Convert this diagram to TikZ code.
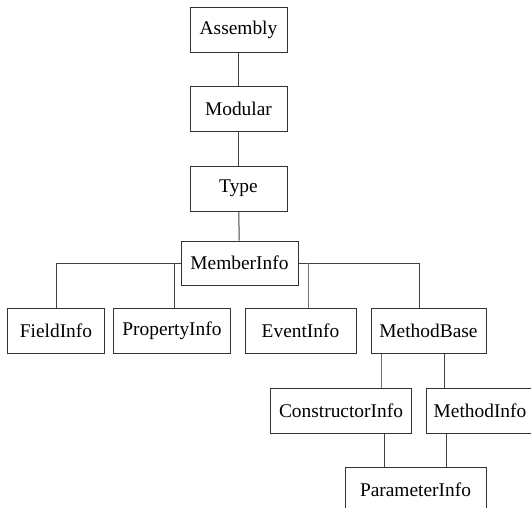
\documentclass[tikz,border=0pt]{standalone}
\usepackage{fontspec}
\setmainfont{Liberation Serif}
\begin{document}
\begin{tikzpicture}[x=1pt,y=-1pt]
\tikzstyle{every node}=[font=\fontsize{19.4}{23}\selectfont]
\tikzstyle{cls}=[draw=black!80,line width=1pt,minimum height=45pt,inner sep=0pt]
\tikzstyle{link}=[draw=black!75,line width=1pt]
\useasboundingbox (0,0) rectangle (531,507);
\clip (0,0) rectangle (531,507);
\node[cls,minimum width=97pt](Assembly) at (238.5,29.5){Assembly};
\node[cls,minimum width=97pt](Modular) at (238.5,109){Modular};
\node[cls,minimum width=97pt](Type) at (238.5,188.5){Type};
\node[cls,minimum width=117pt,minimum height=44pt](MemberInfo) at (239.5,263){MemberInfo};
\node[cls,minimum width=96.5pt](FieldInfo) at (56,331){FieldInfo};
\node[cls,minimum width=116.5pt](PropertyInfo) at (172,331){PropertyInfo};
\node[cls,minimum width=111pt](EventInfo) at (300.5,331){EventInfo};
\node[cls,minimum width=115pt](MethodBase) at (428.5,331){MethodBase};
\node[cls,minimum width=141.5pt](ConstructorInfo) at (341,410.5){ConstructorInfo};
\node[cls,minimum width=108pt](MethodInfo) at (480,410.5){MethodInfo};
\node[cls,minimum width=141pt](ParameterInfo) at (415.5,489.5){ParameterInfo};
% tree links
\draw[link](Assembly)--(Modular);
\draw[link](Modular)--(Type);
\draw[link](Type)--(MemberInfo);
\draw[link](MemberInfo.west)-|(FieldInfo.north);
\draw[link]([xshift=2pt]PropertyInfo.north)--([xshift=2pt]PropertyInfo.north|-MemberInfo.west);
\draw[link](MemberInfo.east)-|([xshift=-9.5pt]MethodBase.north);
\draw[link,draw=black!55]([xshift=7.5pt]EventInfo.north)--([xshift=7.5pt]EventInfo.north|-MemberInfo.east);
\draw[link,draw=black!55]([xshift=-47.5pt]MethodBase.south)--([xshift=-47.5pt]MethodBase.south|-ConstructorInfo.north);
\draw[link]([xshift=15.5pt]MethodBase.south)--([xshift=15.5pt]MethodBase.south|-MethodInfo.north);
\draw[link]([xshift=43pt]ConstructorInfo.south)--([xshift=43pt]ConstructorInfo.south|-ParameterInfo.north);
\draw[link]([xshift=-34pt]MethodInfo.south)--([xshift=-34pt]MethodInfo.south|-ParameterInfo.north);
\end{tikzpicture}
\end{document}
